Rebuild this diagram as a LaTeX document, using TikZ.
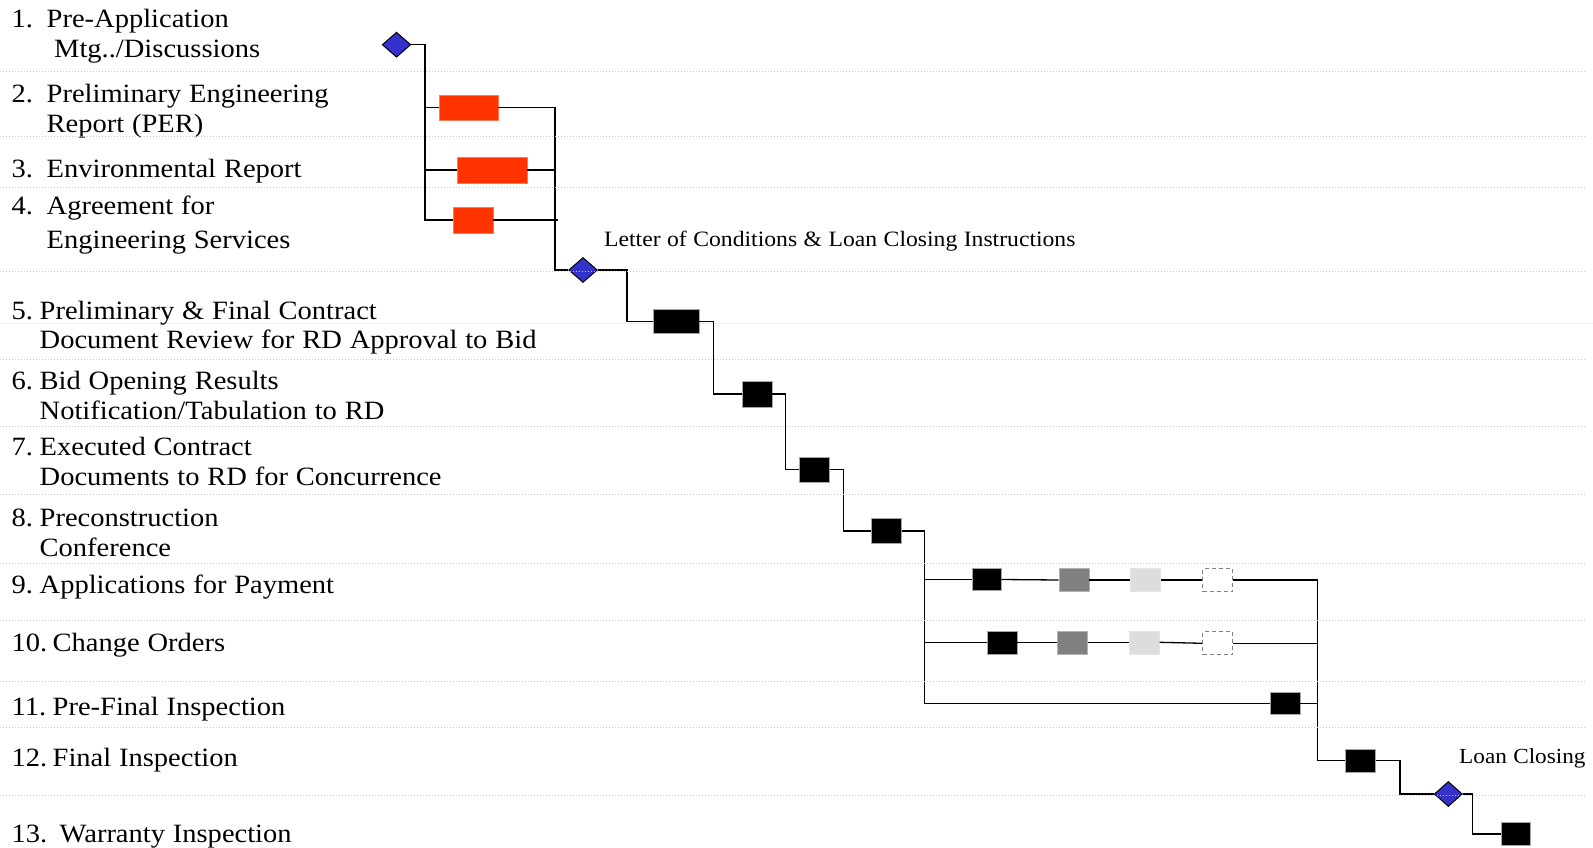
\documentclass[tikz,border=0pt]{standalone}
\usepackage{fontspec}
\setmainfont{Liberation Serif}[FakeStretch=1.08,WordSpace=1.1]
\usetikzlibrary{shapes.geometric}
\definecolor{taskred}{HTML}{FF3300}
\definecolor{msblue}{HTML}{3333CC}
\definecolor{midgray}{HTML}{808080}
\definecolor{palegray}{HTML}{DDDDDD}
\begin{document}
\begin{tikzpicture}[x=1pt,y=-1pt,
  conn/.style={line width=1.3pt, black},
  gridline/.style={gray!45, line width=1pt, dash pattern=on 1.2pt off 1.8pt},
  faintline/.style={gray!12, line width=1pt},
  barbase/.style={rectangle, inner sep=0pt, minimum width=30pt, minimum height=24pt},
  redbar/.style={barbase, fill=taskred, draw=taskred!65, line width=0.5pt, minimum height=25pt},
  blackbar/.style={barbase, fill=black, draw=gray!70, line width=0.6pt},
  graybar/.style={barbase, fill=midgray, draw=gray!60, line width=0.6pt},
  palebar/.style={barbase, fill=palegray, draw=gray!20, line width=0.6pt},
  openbar/.style={barbase, fill=white, draw=midgray, line width=1pt, dash pattern=on 4pt off 3pt},
  milestone/.style={diamond, fill=msblue, draw=black, line width=1pt, inner sep=0pt, minimum width=28.6pt, minimum height=25pt},
  lbl/.style={anchor=base west, inner sep=0pt, font=\fontsize{26.4}{31}\selectfont},
  note/.style={anchor=base west, inner sep=0pt, font=\fontsize{21.5}{25}\selectfont}
]
\useasboundingbox (0,0) rectangle (1593,848);
\fill[white] (0,0) rectangle (1593,848);
\draw[faintline] (0,323) -- (1593,323);

% ---------- labels ----------
\node[lbl] (l1a) at (11.5,27.5) {\makebox[35pt][l]{1.}Pre-Application};
\node[lbl] (l1b) at (54,57.5) {Mtg../Discussions};
\node[lbl] (l2a) at (11.5,103) {\makebox[35pt][l]{2.}Preliminary Engineering};
\node[lbl] (l2b) at (46.5,133) {Report (PER)};
\node[lbl] (l3a) at (11.5,177.5) {\makebox[35pt][l]{3.}Environmental Report};
\node[lbl] (l4a) at (11.5,214.5) {\makebox[35pt][l]{4.}Agreement for};
\node[lbl] (l4b) at (46.5,248) {Engineering Services};
\node[lbl] (l5a) at (11.5,319) {\makebox[28pt][l]{5.}Preliminary \& Final Contract};
\node[lbl] (l5b) at (39.5,348) {Document Review for RD Approval to Bid};
\node[lbl] (l6a) at (11.5,389.5) {\makebox[28pt][l]{6.}Bid Opening Results};
\node[lbl] (l6b) at (39.5,419) {Notification/Tabulation to RD};
\node[lbl] (l7a) at (11.5,455) {\makebox[28pt][l]{7.}Executed Contract};
\node[lbl] (l7b) at (39.5,485) {Documents to RD for Concurrence};
\node[lbl] (l8a) at (11.5,526) {\makebox[28pt][l]{8.}Preconstruction};
\node[lbl] (l8b) at (39.5,556) {Conference};
\node[lbl] (l9a) at (11.5,593) {\makebox[28pt][l]{9.}Applications for Payment};
\node[lbl] (l10a) at (11.5,651) {\makebox[41pt][l]{10.}Change Orders};
\node[lbl] (l11a) at (11.5,715) {\makebox[41pt][l]{11.}Pre-Final Inspection};
\node[lbl] (l12a) at (11.5,766) {\makebox[41pt][l]{12.}Final Inspection};
\node[lbl] (l13a) at (11.5,842) {\makebox[48pt][l]{13.}Warranty Inspection};

\node[note, font=\fontsize{21.9}{25}\selectfont] (loc) at (604,246) {Letter of Conditions \& Loan Closing Instructions};
\node[note] (lcl) at (1459,763) {Loan Closing};

% ---------- tasks and milestones ----------
\node[milestone] (d1) at (396.5,44.7) {};
\node[redbar, minimum width=59pt] (b2) at (468.5,107.5) {};
\node[redbar, minimum width=70pt, minimum height=26pt] (b3) at (492,170) {};
\node[redbar, minimum width=40pt, minimum height=26pt] (b4) at (473,220) {};
\node[milestone] (d2) at (583,270) {};
\node[blackbar, minimum width=46pt] (b5) at (676,321.5) {};
\node[blackbar, minimum height=26pt] (b6) at (757,394) {};
\node[blackbar, minimum height=25pt] (b7) at (814.5,469.5) {};
\node[blackbar, minimum height=25pt] (b8) at (886.5,531) {};
\node[blackbar, minimum width=29pt, minimum height=22pt] (b9a) at (986.5,579.5) {};
\node[graybar, minimum height=23pt] (b9b) at (1074,580) {};
\node[palebar, minimum height=23pt] (b9c) at (1145.5,580) {};
\node[openbar, minimum height=23pt] (b9d) at (1217.7,580) {};
\node[blackbar, minimum height=23pt] (b10a) at (1002,642.3) {};
\node[graybar, minimum height=23pt] (b10b) at (1072.3,642.3) {};
\node[palebar, minimum height=23pt] (b10c) at (1144.3,642.3) {};
\node[openbar, minimum height=23pt] (b10d) at (1217.7,643.3) {};
\node[blackbar, minimum height=22pt] (b11) at (1285,703.5) {};
\node[blackbar, minimum height=23pt] (b12) at (1360.5,760.5) {};
\node[milestone, minimum width=28pt] (d3) at (1448.3,794) {};
\node[blackbar, minimum width=29pt, minimum height=23pt] (b13) at (1515.3,834) {};

% ---------- turning points ----------
\coordinate (xL) at (425,0);
\coordinate (xR) at (555,0);
\coordinate (s1) at (627,0);
\coordinate (s2) at (713.5,0);
\coordinate (s3) at (785.5,0);
\coordinate (s4) at (843.5,0);
\coordinate (s5) at (924.5,0);
\coordinate (s6) at (1317.5,0);
\coordinate (s7) at (1400,0);
\coordinate (s8) at (1472.5,0);

% ---------- connectors ----------
\draw[conn] (d1.east) -| (xL |- b4.west) -- (b4.west);
\draw[conn] (xL |- b2.west) -- (b2.west);
\draw[conn] (xL |- b3.west) -- (b3.west);
\draw[conn] (b2.east) -| (xR |- d2.west) -- (d2.west);
\draw[conn] (b3.east) -- (xR |- b3.east);
\draw[conn] (b4.east) -- ([xshift=3pt]xR |- b4.east);
\draw[conn] (d2.east) -| (s1 |- b5.west) -- (b5.west);
\draw[conn] (b5.east) -| (s2 |- b6.west) -- (b6.west);
\draw[conn] (b6.east) -| (s3 |- b7.west) -- (b7.west);
\draw[conn] (b7.east) -| (s4 |- b8.west) -- (b8.west);
\draw[conn] (b8.east) -| (s5 |- b11.west) -- (b11.west);
\draw[conn] (s5 |- b9a.west) -- (b9a.west);
\draw[conn] (b9a.east) -- (b9b.west);
\draw[conn] (b9b.east) -- (b9c.west);
\draw[conn] (b9c.east) -- (b9d.west);
\draw[conn] (b9d.east) -- (s6 |- b9d.east);
\draw[conn] (s5 |- b10a.west) -- (b10a.west);
\draw[conn] (b10a.east) -- (b10b.west);
\draw[conn] (b10b.east) -- (b10c.west);
\draw[conn] (b10c.east) -- (b10d.west);
\draw[conn] (b10d.east) -- (s6 |- b10d.east);
\draw[conn] (s6 |- b9d.east) -- (s6 |- b12.west) -- (b12.west);
\draw[conn] (b11.east) -- (s6 |- b11.east);
\draw[conn] (b12.east) -| (s7 |- d3.west) -- (d3.west);
\draw[conn] (d3.east) -| (s8 |- b13.west) -- (b13.west);

% ---------- grid lines ----------
\foreach \yy in {72,137,187,271,359,426,494,563,620,681,727,795}
  \draw[gridline] (0,\yy) -- (1585,\yy);
\end{tikzpicture}
\end{document}
